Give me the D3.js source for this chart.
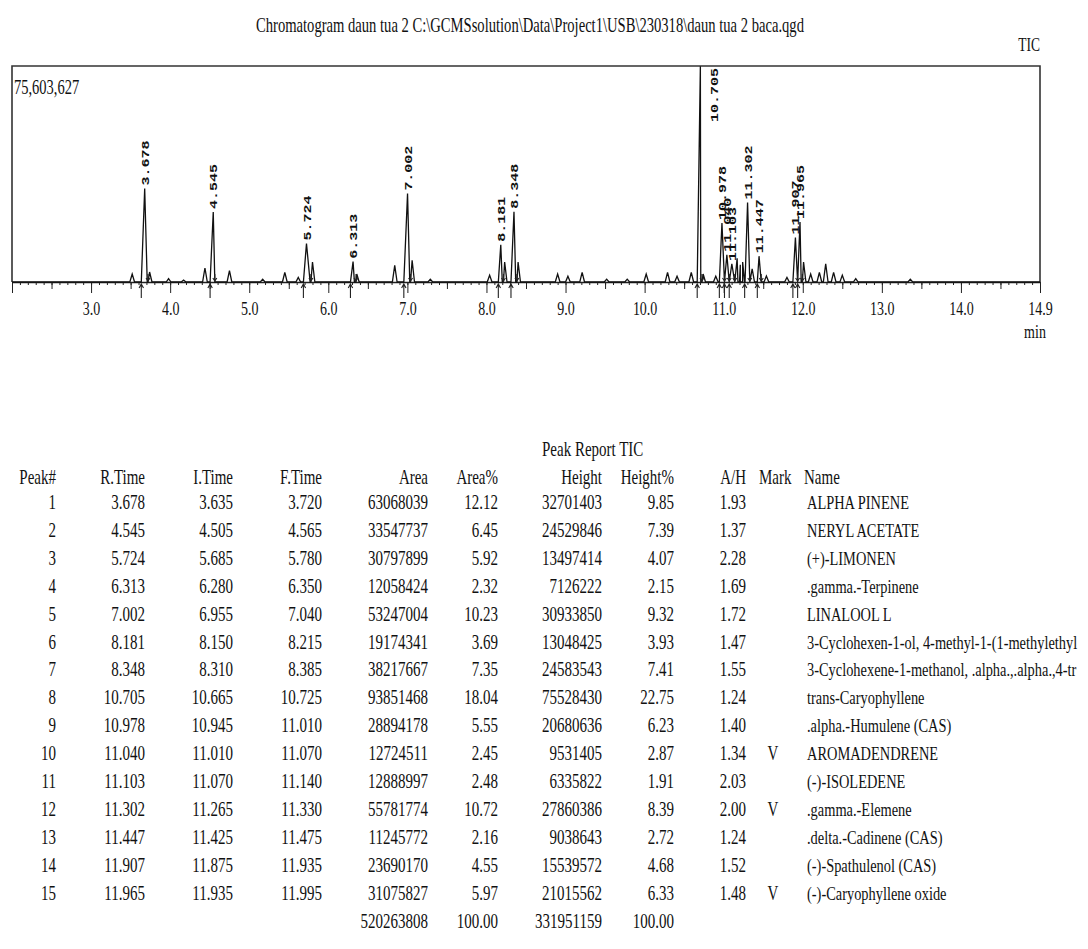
<!DOCTYPE html>
<html lang="en">
<meta charset="utf-8">
<style>
  body { margin: 0; background: #fff; }
</style>
<body>
<div id="my_dataviz"></div>

<script src="https://d3js.org/d3.v7.min.js"></script>
<script>

// ---- peak table (Peak Report TIC) ----
var peakNo    = [1, 2, 3, 4, 5, 6, 7, 8, 9, 10, 11, 12, 13, 14, 15];
var rTime     = [3.678, 4.545, 5.724, 6.313, 7.002, 8.181, 8.348, 10.705, 10.978, 11.040, 11.103, 11.302, 11.447, 11.907, 11.965];
var iTime     = [3.635, 4.505, 5.685, 6.280, 6.955, 8.150, 8.310, 10.665, 10.945, 11.010, 11.070, 11.265, 11.425, 11.875, 11.935];
var fTime     = [3.720, 4.565, 5.780, 6.350, 7.040, 8.215, 8.385, 10.725, 11.010, 11.070, 11.140, 11.330, 11.475, 11.935, 11.995];
var area      = [63068039, 33547737, 30797899, 12058424, 53247004, 19174341, 38217667, 93851468, 28894178, 12724511, 12888997, 55781774, 11245772, 23690170, 31075827];
var areaPct   = [12.12, 6.45, 5.92, 2.32, 10.23, 3.69, 7.35, 18.04, 5.55, 2.45, 2.48, 10.72, 2.16, 4.55, 5.97];
var height    = [32701403, 24529846, 13497414, 7126222, 30933850, 13048425, 24583543, 75528430, 20680636, 9531405, 6335822, 27860386, 9038643, 15539572, 21015562];
var heightPct = [9.85, 7.39, 4.07, 2.15, 9.32, 3.93, 7.41, 22.75, 6.23, 2.87, 1.91, 8.39, 2.72, 4.68, 6.33];
var aH        = [1.93, 1.37, 2.28, 1.69, 1.72, 1.47, 1.55, 1.24, 1.40, 1.34, 2.03, 2.00, 1.24, 1.52, 1.48];
var mark      = ["", "", "", "", "", "", "", "", "", "V", "", "V", "", "", "V"];
var names     = ["ALPHA PINENE", "NERYL ACETATE", "(+)-LIMONEN", ".gamma.-Terpinene", "LINALOOL L",
                 "3-Cyclohexen-1-ol, 4-methyl-1-(1-methylethyl", "3-Cyclohexene-1-methanol, .alpha.,.alpha.,4-tr",
                 "trans-Caryophyllene", ".alpha.-Humulene (CAS)", "AROMADENDRENE", "(-)-ISOLEDENE",
                 ".gamma.-Elemene", ".delta.-Cadinene (CAS)", "(-)-Spathulenol (CAS)", "(-)-Caryophyllene oxide"];
var totals    = ["520263808", "100.00", "331951159", "100.00"];

// ---- small unlabeled peaks (min, intensity) ----
var minorTime   = [3.52, 3.74, 3.98, 4.17, 4.44, 4.75, 5.17, 5.45, 5.62, 5.80, 6.36, 6.84, 7.06, 7.29,
                   8.04, 8.23, 8.40, 8.90, 9.03, 9.21, 9.52, 9.78, 10.02, 10.29, 10.41, 10.59, 10.74, 10.90,
                   11.17, 11.21, 11.24, 11.36, 11.54, 11.80, 12.01, 12.10, 12.21, 12.29, 12.39, 12.50, 12.67, 13.36];
var minorHeight = [2.8e6, 3.5e6, 1.2e6, 0.7e6, 4.9e6, 4.0e6, 1.0e6, 3.4e6, 1.6e6, 7.0e6, 2.8e6, 5.8e6, 7.6e6, 1.0e6,
                   2.4e6, 7.0e6, 7.0e6, 2.8e6, 2.0e6, 3.4e6, 1.0e6, 1.0e6, 2.8e6, 3.4e6, 2.0e6, 3.4e6, 2.8e6, 2.0e6,
                   8.3e6, 6.0e6, 7.0e6, 4.6e6, 2.1e6, 1.6e6, 7.0e6, 2.8e6, 3.4e6, 6.4e6, 3.4e6, 2.4e6, 1.2e6, 1.0e6];

// ---- axis ----
var xTickValues = [2, 3, 4, 5, 6, 7, 8, 9, 10, 11, 12, 13, 14, 15];
var xTickLabels = ["", "3.0", "4.0", "5.0", "6.0", "7.0", "8.0", "9.0", "10.0", "11.0", "12.0", "13.0", "14.0", "14.9"];
var yMax = 75603627;
var yMaxLabel = "75,603,627";
var titleText = "Chromatogram daun tua 2 C:\\GCMSsolution\\Data\\Project1\\USB\\230318\\daun tua 2 baca.qgd";

// layout
var W = 1088, H = 949;
var plot = {left: 12, right: 1040, top: 66, base: 282};
var stretch = 1.4;   // the printout is squeezed sideways, so text runs tall
var serif = "'Liberation Serif', 'Times New Roman', serif";

var svg = d3.select("#my_dataviz")
  .append("svg")
    .attr("width", W)
    .attr("height", H);

svg.append("rect").attr("width", W).attr("height", H).attr("fill", "#fff");

function label(px, py, s, size, anchor, k) {
  return svg.append("text")
    .attr("transform", "translate(" + px + "," + py + ") scale(1," + (k || stretch) + ")")
    .attr("text-anchor", anchor || "start")
    .attr("font-family", serif)
    .attr("font-size", size)
    .attr("fill", "#111")
    .text(s);
}

var x = d3.scaleLinear().domain([2, 15]).range([plot.left, plot.right]);
var y = d3.scaleLinear().domain([0, yMax]).range([plot.base, plot.top]);

// title and corner texts
label(530, 32, titleText, 14.6, "middle");
label(plot.right, 51, "TIC", 13.5, "end");
label(14, 94, yMaxLabel, 14.5, "start");

// frame
svg.append("path")
  .attr("d", "M" + plot.left + "," + plot.base + "V" + plot.top + "H" + plot.right + "V" + plot.base)
  .attr("fill", "none")
  .attr("stroke", "#333")
  .attr("stroke-width", 1.6);

// minor ticks every 0.1 min, medium every 0.5
var minorG = svg.append("g").attr("transform", "translate(0," + plot.base + ")")
  .call(d3.axisBottom(x).tickValues(d3.range(20, 151).map(function(d) { return d / 10; }))
        .tickSize(3).tickSizeOuter(0).tickFormat(""));
minorG.select(".domain").remove();

var midG = svg.append("g").attr("transform", "translate(0," + plot.base + ")")
  .call(d3.axisBottom(x).tickValues(d3.range(2.5, 15, 1)).tickSize(7).tickSizeOuter(0).tickFormat(""));
midG.select(".domain").remove();

var xAxis = svg.append("g").attr("transform", "translate(0," + plot.base + ")")
  .call(d3.axisBottom(x).tickValues(xTickValues).tickSize(11).tickSizeOuter(0)
        .tickFormat(function(d, i) { return xTickLabels[i]; }));

svg.selectAll(".tick line").attr("stroke", "#222");
xAxis.select(".domain").attr("stroke", "#222").attr("stroke-width", 1.6);
xAxis.selectAll(".tick text")
  .attr("y", 0).attr("dy", 0)
  .attr("transform", "translate(0,33) scale(1," + stretch + ")")
  .attr("font-family", serif)
  .attr("font-size", 14)
  .attr("fill", "#111");

label(plot.right - 5, 338, "min", 14, "middle");

// chromatogram trace built from the peaks
var trace = [[2, 0], [15, 0]];
rTime.forEach(function(t, i) {
  trace.push([iTime[i], 0], [t, height[i]], [fTime[i], 0]);
});
minorTime.forEach(function(t, i) {
  trace.push([t - 0.03, 0], [t, minorHeight[i]], [t + 0.03, 0]);
});
trace.sort(function(a, b) { return a[0] - b[0]; });

svg.append("path")
  .datum(trace)
  .attr("fill", "none")
  .attr("stroke", "#111")
  .attr("stroke-width", 1.3)
  .attr("d", d3.line().x(function(d) { return x(d[0]); }).y(function(d) { return y(d[1]); }));

// peak start arrows (below baseline) and end marks (above)
var marks = svg.append("g").attr("stroke", "#222").attr("fill", "none").attr("stroke-width", 1.1);
iTime.forEach(function(t) {
  var px = x(t);
  marks.append("path").attr("d",
    "M" + px + "," + (plot.base + 16) + "V" + (plot.base + 2) +
    "M" + (px - 2.2) + "," + (plot.base + 6) + "L" + px + "," + (plot.base + 2) + "L" + (px + 2.2) + "," + (plot.base + 6));
});
fTime.forEach(function(t) {
  var px = x(t);
  marks.append("path").attr("d",
    "M" + px + "," + (plot.base - 8) + "V" + (plot.base - 1) +
    "M" + (px - 2) + "," + (plot.base - 4) + "L" + px + "," + (plot.base - 1) + "L" + (px + 2) + "," + (plot.base - 4));
});

// rotated retention time labels
rTime.forEach(function(t, i) {
  var s = t.toFixed(3);
  var len = s.length * 9;
  var px = x(t), py = y(height[i]) - 3;
  if (py - len < plot.top + 2) { py = plot.top + 2 + len; px += 14; }
  svg.append("text")
    .attr("transform", "translate(" + px + "," + py + ") rotate(-90) scale(1,0.75)")
    .attr("dy", "0.36em")
    .attr("font-family", "'Liberation Mono', 'DejaVu Sans Mono', monospace")
    .attr("font-weight", "bold")
    .attr("font-size", 15)
    .attr("fill", "#111")
    .text(s);
});

// ---- Peak Report table ----
var colRight = [56, 145, 233, 322, 428, 498, 602, 674, 746];
var headers = ["Peak#", "R.Time", "I.Time", "F.Time", "Area", "Area%", "Height", "Height%", "A/H"];
var tSize = 15, tK = 1.38;
var rowBase = 509, rowStep = 27.9;

label(542, 456, "Peak Report TIC", tSize, "start", tK);
headers.forEach(function(h, j) { label(colRight[j], 484, h, tSize, "end", tK); });
label(759, 484, "Mark", tSize, "start", tK);
label(804, 484, "Name", tSize, "start", tK);

peakNo.forEach(function(n, i) {
  var yy = rowBase + i * rowStep;
  var cells = [String(n), rTime[i].toFixed(3), iTime[i].toFixed(3), fTime[i].toFixed(3),
               String(area[i]), areaPct[i].toFixed(2), String(height[i]), heightPct[i].toFixed(2), aH[i].toFixed(2)];
  cells.forEach(function(c, j) { label(colRight[j], yy, c, tSize, "end", tK); });
  label(773, yy, mark[i], tSize, "middle", tK);
  label(807, yy, names[i], 14.4, "start", tK);
});

var totY = rowBase + peakNo.length * rowStep;
[4, 5, 6, 7].forEach(function(j, k) { label(colRight[j], totY, totals[k], tSize, "end", tK); });

</script>
</body>
</html>
